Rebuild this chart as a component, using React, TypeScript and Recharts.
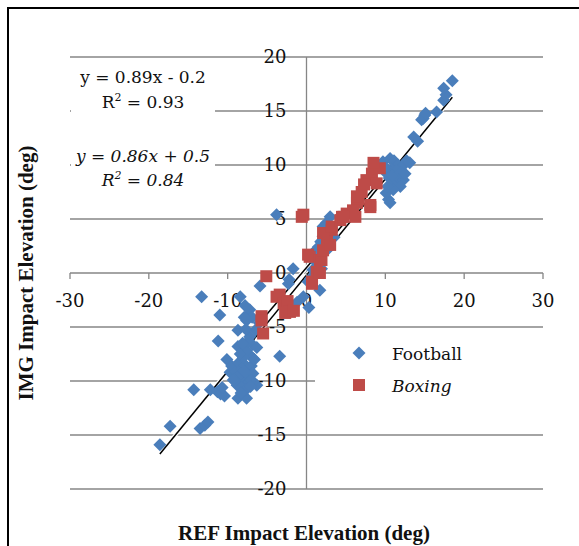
import {
	CartesianGrid,
	ReferenceDot,
	ReferenceLine,
	Scatter,
	ScatterChart,
	XAxis,
	YAxis,
} from "recharts";

const xTicks = [-30, -20, -10, 0, 10, 20, 30];
const yTicks = [-20, -15, -10, -5, 0, 5, 10, 15, 20];

// [REF, IMG] impact elevation pairs
const football = [
	[-18.6, -15.9], [-17.3, -14.2], [-13.5, -14.4], [-12.9, -14.1], [-12.5, -13.8],
	[-14.3, -10.8], [-12.2, -10.8], [-11.3, -11.0], [-10.9, -11.2], [-10.4, -11.4],
	[-10.7, -10.6], [-8.7, -11.6], [-7.6, -11.6], [-8.0, -11.0], [-6.3, -10.4],
	[-6.8, -10.1], [-13.3, -2.2], [-11.0, -3.9], [-11.2, -6.3], [-10.1, -8.0],
	[-8.7, -5.3], [-8.7, -6.8], [-7.2, -5.9], [-6.8, -7.9], [-3.4, -7.7],
	[-8.4, -2.2], [-7.8, -3.0], [-7.4, -3.9], [-7.6, -4.4], [-5.9, -1.2],
	[-2.3, -1.0], [-1.2, -2.7], [-1.7, 0.4], [-2.2, -0.6], [-0.4, -2.2],
	[0.3, -3.2], [1.7, -1.6], [-3.8, 5.4], [-9.7, -9.2], [-9.2, -8.8],
	[-9.5, -8.6], [-9.0, -9.1], [-8.6, -8.3], [-8.2, -8.9], [-7.8, -8.5],
	[-7.4, -9.0], [-7.0, -8.6], [-6.8, -9.3], [-7.2, -7.6], [-7.6, -7.2],
	[-8.0, -7.8], [-8.4, -7.5], [-9.0, -9.8], [-8.5, -10.0], [-8.0, -9.6],
	[-7.5, -10.2], [-7.0, -9.9], [-6.6, -8.0], [-8.8, -10.4], [-8.2, -10.6],
	[-7.7, -10.8], [-9.3, -9.9], [-8.4, -9.3], [-7.9, -9.1], [-7.1, -10.5],
	[-8.3, -11.1], [-6.9, -6.6], [-7.4, -6.3], [-8.1, -6.5], [-6.5, -5.3],
	[-6.0, -4.6], [-6.3, -6.9], [-7.7, -5.2], [-7.2, -3.4], [-6.9, -4.1],
	[-7.9, -4.1], [0.5, -0.5], [0.8, 0.3], [1.2, 1.0], [1.0, 2.0],
	[1.5, 2.4], [1.8, 2.9], [2.1, 3.4], [2.1, 4.3], [2.5, 4.6],
	[3.0, 5.2], [2.6, 3.9], [1.3, 1.6], [0.2, -0.8], [1.9, 0.4],
	[2.7, 2.2], [3.5, 3.3], [9.7, 10.3], [10.6, 10.6], [11.1, 10.4],
	[11.6, 10.0], [12.2, 9.9], [12.7, 10.4], [13.1, 10.2], [10.2, 9.2],
	[10.8, 9.6], [11.4, 9.5], [10.5, 8.8], [11.0, 8.4], [11.6, 8.9],
	[12.3, 8.6], [11.9, 8.0], [11.0, 7.7], [10.4, 6.8], [10.6, 6.5],
	[10.1, 7.4], [10.3, 8.0], [10.9, 9.0], [11.9, 9.3], [12.5, 9.2],
	[10.0, 9.8], [13.6, 12.6], [14.1, 12.2], [14.6, 14.2], [15.0, 14.6],
	[14.8, 14.3], [15.1, 14.8], [16.5, 14.9], [17.4, 16.0], [17.7, 16.5],
	[17.4, 17.1], [18.5, 17.8],
];

const boxing = [
	[-5.1, -0.3], [-3.8, -2.2], [-3.4, -2.0], [-2.9, -2.8], [-2.4, -2.6],
	[-2.1, -3.6], [-2.7, -3.7], [-1.6, -3.5], [-5.7, -4.0], [-5.7, -4.4],
	[-5.5, -5.6], [-0.4, 5.4], [-0.6, 5.2], [0.2, 1.7], [0.4, 1.5],
	[1.3, 0.1], [0.7, -0.8], [0.7, -1.0], [1.7, 0.0], [1.7, 1.2],
	[1.9, 1.2], [2.1, 2.1], [2.6, 3.1], [3.0, 2.6], [3.2, 4.0],
	[2.1, 3.7], [3.2, 4.3], [4.3, 4.9], [4.5, 5.2], [5.1, 5.5],
	[6.2, 5.2], [6.4, 6.5], [6.6, 6.8], [6.4, 7.1], [8.1, 6.1],
	[8.1, 6.3], [5.9, 5.8], [7.6, 8.6], [8.3, 9.2], [8.9, 8.3],
	[9.3, 9.7], [8.5, 10.2], [7.0, 7.5], [7.3, 8.2], [4.7, 5.2],
];

// linear trendlines as printed on the chart
const footballFit = { slope: 0.89, intercept: -0.2 };
const boxingFit = { slope: 0.86, intercept: 0.5 };

const BLUE = "#4a7ebb";
const RED = "#be4b48";
const GRID = "#868686";
const SERIF = "'DejaVu Serif', serif";

const toPoints = (pts: number[][]) => pts.map(([x, y]) => ({ x, y }));

const fitSegment = (pts: number[][], fit: { slope: number; intercept: number }) => {
	const xs = pts.map((p) => p[0]);
	const x0 = Math.min(...xs);
	const x1 = Math.max(...xs);
	return [
		{ x: x0, y: fit.slope * x0 + fit.intercept },
		{ x: x1, y: fit.slope * x1 + fit.intercept },
	];
};

const Diamond = ({ cx, cy }: any) => (
	<path
		d={`M${cx},${cy - 6.5}L${cx + 6.5},${cy}L${cx},${cy + 6.5}L${cx - 6.5},${cy}Z`}
		fill={BLUE}
	/>
);

const Square = ({ cx, cy }: any) => (
	<rect x={cx - 6} y={cy - 6} width={12} height={12} fill={RED} />
);

export default function App() {
	const fbLine = fitSegment(football, footballFit);
	const bxLine = fitSegment(boxing, boxingFit);

	return (
		<div
			style={{
				position: "absolute",
				left: 0,
				top: 0,
				width: 579,
				height: 546,
				background: "#fff",
				overflow: "hidden",
			}}
		>
			<div
				style={{
					position: "absolute",
					left: 7,
					top: 7,
					width: 620,
					height: 600,
					borderTop: "2px solid #000",
					borderLeft: "2px solid #000",
				}}
			/>
			<ScatterChart
				width={579}
				height={546}
				margin={{ top: 57, right: 36, bottom: 57, left: 70 }}
				style={{ position: "absolute", left: 0, top: 0 }}
			>
				<XAxis type="number" dataKey="x" domain={[-30, 30]} ticks={xTicks} hide />
				<YAxis type="number" dataKey="y" domain={[-20, 20]} ticks={yTicks} hide />
				<CartesianGrid vertical={false} stroke={GRID} strokeWidth={1.3} />
				<ReferenceLine x={0} stroke={GRID} strokeWidth={1.3} />
				{xTicks.map((v) => (
					<ReferenceDot
						key={`xt${v}`}
						x={v}
						y={0}
						r={0}
						ifOverflow="visible"
						shape={(p: any) => (
							<g>
								<line x1={p.cx} y1={p.cy} x2={p.cx} y2={p.cy + 6} stroke={GRID} strokeWidth={1.3} />
								<text
									x={p.cx}
									y={p.cy + 34}
									textAnchor="middle"
									fontFamily={SERIF}
									fontSize={18}
									fill="#111"
								>
									{v}
								</text>
							</g>
						)}
					/>
				))}
				{yTicks.map((v) => (
					<ReferenceDot
						key={`yt${v}`}
						x={0}
						y={v}
						r={0}
						ifOverflow="visible"
						shape={(p: any) => (
							<text
								x={p.cx - 20}
								y={p.cy + 6}
								textAnchor="end"
								fontFamily={SERIF}
								fontSize={18}
								fill="#111"
							>
								{v}
							</text>
						)}
					/>
				))}
				<Scatter
					name="Football"
					data={toPoints(football)}
					shape={Diamond}
					isAnimationActive={false}
				/>
				<Scatter
					name="Boxing"
					data={toPoints(boxing)}
					shape={Square}
					isAnimationActive={false}
				/>
				<ReferenceLine segment={fbLine} stroke="#fff" strokeWidth={4} ifOverflow="visible" />
				<ReferenceLine segment={bxLine} stroke="#fff" strokeWidth={4} ifOverflow="visible" />
				<ReferenceLine segment={fbLine} stroke="#000" strokeWidth={1.5} ifOverflow="visible" />
				<ReferenceLine segment={bxLine} stroke="#000" strokeWidth={1.5} ifOverflow="visible" />
			</ScatterChart>
			<svg
				width={579}
				height={546}
				style={{ position: "absolute", left: 0, top: 0, pointerEvents: "none" }}
			>
				<rect x={71} y={63} width={144} height={60} fill="#fff" />
				<text x={143} y={83} textAnchor="middle" fontFamily={SERIF} fontSize={17} fill="#111">
					y = 0.89x - 0.2
				</text>
				<text x={143} y={108} textAnchor="middle" fontFamily={SERIF} fontSize={17} fill="#111">
					R<tspan dy={-7} fontSize={11}>2</tspan>
					<tspan dy={7}> = 0.93</tspan>
				</text>
				<rect x={71} y={140} width={144} height={58} fill="#fff" />
				<text
					x={143}
					y={162}
					textAnchor="middle"
					fontFamily={SERIF}
					fontSize={17}
					fontStyle="italic"
					fill="#111"
				>
					y = 0.86x + 0.5
				</text>
				<text
					x={143}
					y={186}
					textAnchor="middle"
					fontFamily={SERIF}
					fontSize={17}
					fontStyle="italic"
					fill="#111"
				>
					R<tspan dy={-7} fontSize={11}>2</tspan>
					<tspan dy={7}> = 0.84</tspan>
				</text>

				<rect x={315} y={333} width={250} height={80} fill="#fff" />
				<path d="M359,346.5L365.5,353L359,359.5L352.5,353Z" fill={BLUE} />
				<text x={392} y={360} fontFamily={SERIF} fontSize={17} fill="#111">
					Football
				</text>
				<rect x={353} y={379} width={12} height={12} fill={RED} />
				<text x={392} y={392} fontFamily={SERIF} fontSize={17} fontStyle="italic" fill="#111">
					Boxing
				</text>

				<text
					x={304}
					y={540}
					textAnchor="middle"
					fontFamily="'Liberation Serif', serif"
					fontWeight="bold"
					fontSize={21}
					fill="#111"
				>
					REF Impact Elevation (deg)
				</text>
				<text
					transform="translate(33,273) rotate(-90)"
					textAnchor="middle"
					fontFamily="'Liberation Serif', serif"
					fontWeight="bold"
					fontSize={21}
					fill="#111"
				>
					IMG Impact Elevation (deg)
				</text>
			</svg>
		</div>
	);
}
